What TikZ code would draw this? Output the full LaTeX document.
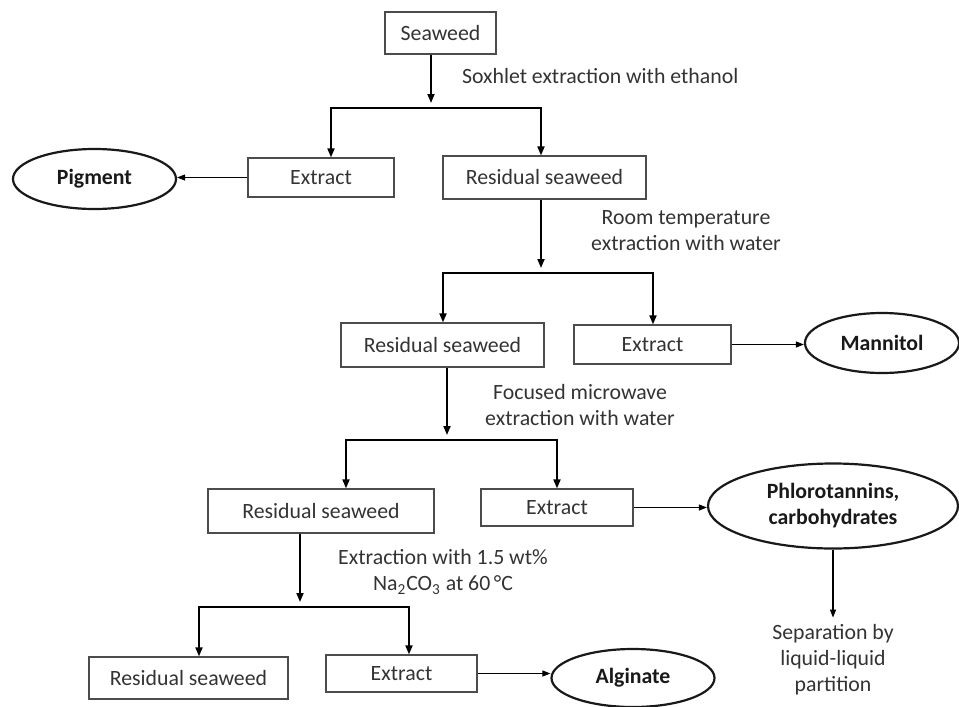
\documentclass[tikz,border=0pt]{standalone}
\usepackage{fontspec}
\setmainfont{Carlito}
\usetikzlibrary{arrows.meta,shapes.geometric}

\begin{document}
\begin{tikzpicture}[x=0.5pt, y=-0.5pt, font=\fontsize{10.9}{13}\selectfont, text=black!80,
  box/.style={draw=black!70, line width=0.6pt, inner sep=0pt},
  prod/.style={ellipse, draw=black!90, line width=1.1pt, inner sep=0pt, text=black!90,
    font=\fontsize{10.9}{13}\selectfont\bfseries, align=center},
  note/.style={align=center},
  flow/.style={-{Triangle[length=4.5pt,width=3.5pt]}, line width=0.9pt},
  side/.style={-{Triangle[length=4pt,width=3pt]}, line width=0.5pt}]
\useasboundingbox (0,0) rectangle (959,707);

% boxes
\node[box, minimum width=55.5pt, minimum height=21pt]   (seaweed) at (440.5,33)  {Seaweed};
\node[box, minimum width=73pt,   minimum height=19.5pt] (ext1)    at (321,177.5) {Extract};
\node[box, minimum width=101.5pt,minimum height=21.5pt] (res1)    at (544.5,177.5) {Residual seaweed};
\node[box, minimum width=101.5pt,minimum height=22pt]   (res2)    at (442.5,345) {Residual seaweed};
\node[box, minimum width=78.5pt, minimum height=19.5pt] (ext2)    at (652.5,344.5) {Extract};
\node[box, minimum width=113pt,  minimum height=22pt]   (res3)    at (321,511)   {Residual seaweed};
\node[box, minimum width=76pt,   minimum height=18.5pt] (ext3)    at (557,507.5) {Extract};
\node[box, minimum width=99.5pt, minimum height=21pt]   (res4)    at (188.5,678) {Residual seaweed};
\node[box, minimum width=75.5pt, minimum height=18.5pt] (ext4)    at (401.5,673.5) {Extract};

% products
\node[prod, minimum width=81.5pt, minimum height=30pt]   (pigment)  at (94.5,179) {Pigment};
\node[prod, minimum width=77pt,   minimum height=30pt]   (mannitol) at (882,343)  {Mannitol};
\node[prod, minimum width=125pt,  minimum height=42.5pt] (phloro)   at (833,506)  {Phlorotannins,\\carbohydrates};
\node[prod, minimum width=81.5pt, minimum height=29pt]   (alginate) at (633,678)  {Alginate};

% conditions
\node[anchor=west] (soxhlet) at (455,76) {Soxhlet extraction with ethanol};
\node[note] (room)    at (686,231) {Room temperature\\extraction with water};
\node[note] (focused) at (580,405) {Focused microwave\\extraction with water};
\node[note] (carb)    at (443,572) {Extraction with 1.5 wt\%\\Na\textsubscript{2}CO\textsubscript{3} at 60\,°C};
\node[note] (sep)     at (833,660) {Separation by\\liquid-liquid\\partition};

% splits
\coordinate (j1) at (431,108);
\coordinate (j1l) at (331,108);
\coordinate (j1r) at (541,108);
\draw[flow] (seaweed.south -| j1) -- ([yshift=2.5pt]j1);
\draw[flow] (j1) -| (j1l |- ext1.north);
\draw[flow] (j1) -| (j1r |- res1.north);

\coordinate (j2) at (541,273);
\coordinate (j2l) at (443,273);
\coordinate (j2r) at (653,273);
\draw[flow] (res1.south -| j2) -- ([yshift=2.5pt]j2);
\draw[flow] (j2) -| (j2l |- res2.north);
\draw[flow] (j2) -| (j2r |- ext2.north);

\coordinate (j3) at (447,440);
\coordinate (j3l) at (346,440);
\coordinate (j3r) at (557,440);
\draw[flow] (res2.south -| j3) -- ([yshift=2.5pt]j3);
\draw[flow] (j3) -| (j3l |- res3.north);
\draw[flow] (j3) -| (j3r |- ext3.north);

\coordinate (j4) at (300,607);
\coordinate (j4l) at (199,607);
\coordinate (j4r) at (409,607);
\draw[flow] (res3.south -| j4) -- ([yshift=2.5pt]j4);
\draw[flow] (j4) -| (j4l |- res4.north);
\draw[flow] (j4) -| (j4r |- ext4.north);

% to products
\draw[side] (ext1.west) -- (ext1.west -| pigment.east);
\draw[side] (ext2.east) -- (ext2.east -| mannitol.west);
\draw[side] (ext3.east) -- (ext3.east -| phloro.west);
\draw[side] (ext4.east) -- (ext4.east -| alginate.west);
\draw[side, line width=0.7pt] (phloro.south) -- (sep.north);
\end{tikzpicture}
\end{document}
